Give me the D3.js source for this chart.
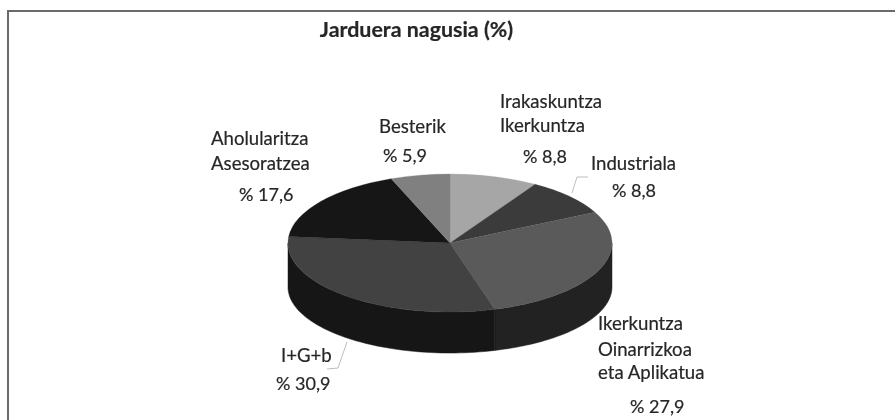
<!DOCTYPE html>
<html><head><meta charset="utf-8">
<script src="https://cdnjs.cloudflare.com/ajax/libs/d3/7.8.5/d3.min.js"></script>
<style>html,body{margin:0;padding:0;background:#fff}svg{display:block}text{font-family:Lato,"Open Sans",sans-serif;fill:#262626;stroke:#262626;stroke-width:.2}</style>
</head><body><svg id="c" width="895" height="420"></svg>
<script>
const chartTitle = "Jarduera nagusia (%)";
const categories = ["Irakaskuntza Ikerkuntza","Industriala","Ikerkuntza Oinarrizkoa eta Aplikatua","I+G+b","Aholularitza Asesoratzea","Besterik"];
const values = [8.8,8.8,27.9,30.9,17.6,5.9];
const valueLabels = ["% 8,8","% 8,8","% 27,9","% 30,9","% 17,6","% 5,9"];
const topColors = ["#a6a6a6","#3b3b3b","#5a5a5a","#434343","#171717","#808080"];
const sideColors = ["#6a6a6a","#202020","#202020","#191919","#0d0d0d","#505050"];
const labelLines = [["Irakaskuntza","Ikerkuntza"],["Industriala"],["Ikerkuntza","Oinarrizkoa","eta Aplikatua"],["I+G+b"],["Aholularitza","Asesoratzea"],["Besterik"]];
// layout: left x of each text block, line baselines
const labelLayout = [
 {x:500,ys:[108,132],vx:523,vy:163},
 {x:591,ys:[170],vx:612,vy:197},
 {x:598,ys:[330,356,379],vx:630,vy:413},
 {x:281,ys:[362],vx:276,vy:390},
 {x:211,ys:[145,170],vx:239,vy:201},
 {x:379,ys:[133],vx:383,vy:162}
];
const leaders = [[[572,193],[577,177],[588,177]],[[347,342],[338,368],[327,369]]];

const svg = d3.select("#c");
const defs = svg.append("defs");
defs.append("filter").attr("id","soft").append("feGaussianBlur").attr("stdDeviation",0.45);
const root = svg.append("g").attr("filter","url(#soft)");

// frame
root.append("path").attr("d","M8 420V11H895").attr("fill","none").attr("stroke","#6a6a6a").attr("stroke-width",2);

const cx=450, cy=243, rx=162, ry=69, baseCy=287, baseRy=66;
const pie = d3.pie().value(d=>d).sort(null)(values);
const xAt = a => cx + rx*Math.sin(a);
const yAt = a => cy - ry*Math.cos(a);
const yBase = a => baseCy - baseRy*Math.cos(a);

// side wall: only the front half of the ellipse (PI/2..3PI/2) is visible
const pathGen = d3.line();
pie.forEach((s,i)=>{
  const a0=Math.max(s.startAngle,Math.PI/2), a1=Math.min(s.endAngle,3*Math.PI/2);
  if(a1<=a0) return;
  const steps=d3.range(0,61).map(k=>a0+(a1-a0)*k/60);
  const pts=[...steps.map(a=>[xAt(a),yAt(a)]),...steps.slice().reverse().map(a=>[xAt(a),yBase(a)])];
  root.append("path").attr("d",pathGen(pts)+"Z").attr("fill",sideColors[i]).attr("stroke",sideColors[i]).attr("stroke-width",.5);
});

// top face
const arcGen=d3.arc().innerRadius(0).outerRadius(rx);
const face=root.append("g").attr("transform",`translate(${cx},${cy}) scale(1,${ry/rx})`);
face.selectAll("path").data(pie).join("path").attr("d",arcGen).attr("fill",(d,i)=>topColors[i]).attr("stroke",(d,i)=>topColors[i]).attr("stroke-width",.4);

// leaders
leaders.forEach(l=>root.append("path").attr("d",pathGen(l)).attr("fill","none").attr("stroke","#bdbdbd").attr("stroke-width",1));

// title
root.append("text").attr("x",416.5).attr("y",37).attr("text-anchor","middle").attr("font-size",21.4).attr("font-weight",700).text(chartTitle);

// labels
categories.forEach((c,i)=>{
  const L=labelLayout[i];
  labelLines[i].forEach((t,j)=>root.append("text").attr("x",L.x).attr("y",L.ys[j]).attr("font-size",18.6).text(t));
  root.append("text").attr("x",L.vx).attr("y",L.vy).attr("font-size",18).text(valueLabels[i]);
});
</script></body></html>
